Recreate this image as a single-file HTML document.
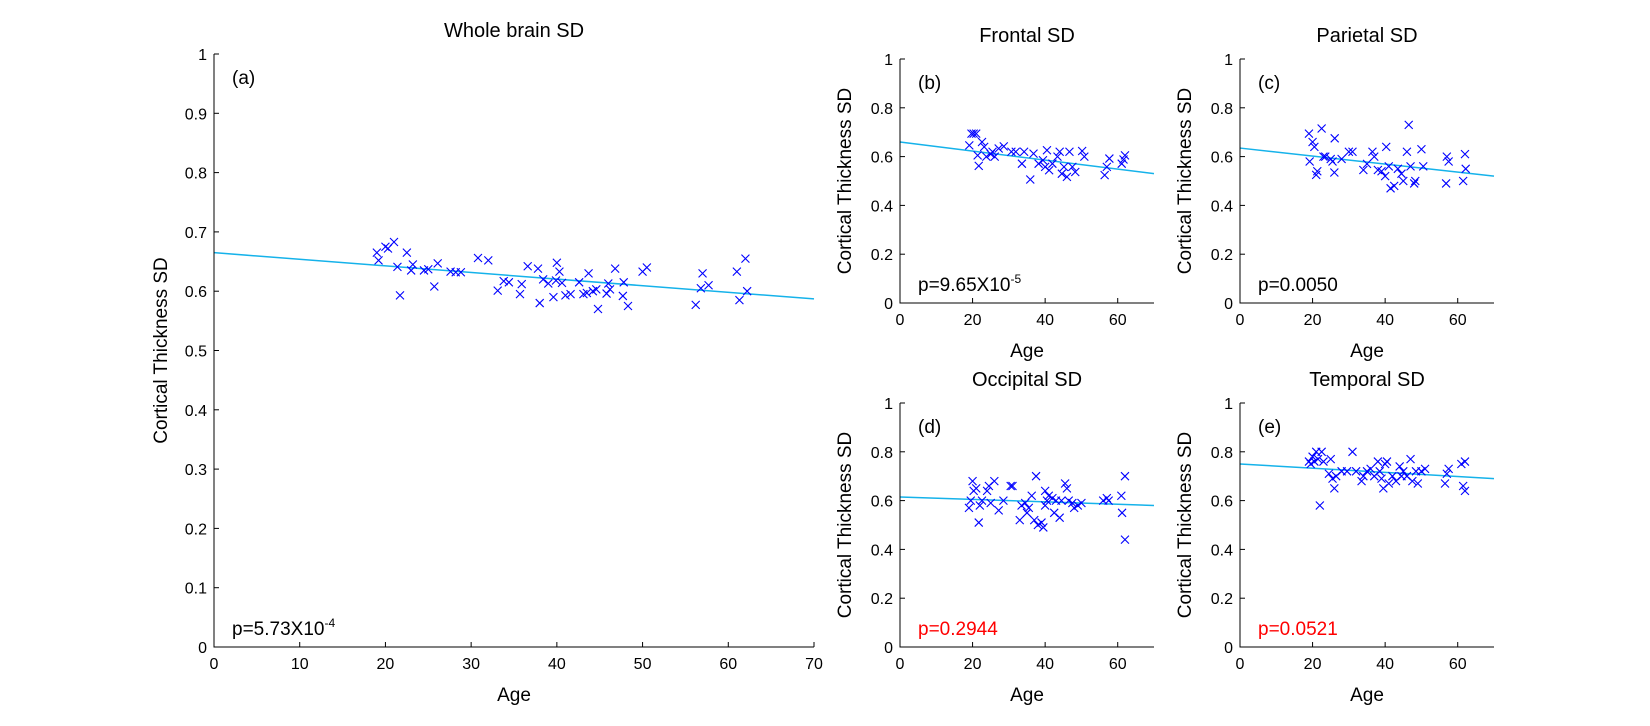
<!DOCTYPE html>
<html><head><meta charset="utf-8"><style>
html,body{margin:0;padding:0;background:#fff;}
svg{display:block;}
text{font-family:"Liberation Sans",sans-serif;}
</style></head><body>
<svg id="fig" width="1650" height="726" viewBox="0 0 1650 726" xmlns="http://www.w3.org/2000/svg"></svg>
<script>
// ---- data ----
const wholeAges=[19.0,19.2,20,20.3,21,21.4,21.7,22.5,23,23.2,24.5,25,25.7,26.1,27.6,28.2,28.8,30.8,32,33.1,33.8,34.4,35.7,35.9,36.6,37.8,38,38.4,39,39.6,39.9,40,40.3,40.6,41,41.6,42.6,43.1,43.5,43.7,44.2,44.6,44.8,45.8,46,46.2,46.8,47.7,47.8,48.3,50,50.5,56.2,56.8,57,57.7,61,61.3,62,62.2];
const wholeSD=[.665,.652,.675,.672,.683,.641,.593,.665,.635,.645,.635,.637,.608,.647,.633,.632,.632,.656,.652,.601,.617,.615,.595,.612,.642,.638,.58,.62,.613,.59,.618,.648,.633,.614,.593,.595,.615,.595,.597,.63,.6,.603,.57,.596,.613,.603,.638,.592,.615,.575,.633,.64,.577,.605,.63,.61,.633,.585,.655,.6];
const frontalAges=[19.1,19.7,20.3,21,21.7,21.4,22.6,23.2,23.8,25,25.5,26.1,27.2,28.6,30.7,31.9,33.6,34.2,35.9,36.8,38.2,39.4,40,40.5,41.1,42,43.4,44,44.6,45.2,46,46.7,47.5,48.3,50.2,50.8,56.4,57,57.7,61.1,62,61.6];
const frontalSD=[.646,.694,.694,.694,.562,.605,.66,.64,.6,.61,.62,.6,.633,.642,.62,.62,.571,.62,.506,.612,.571,.585,.558,.626,.544,.571,.6,.62,.53,.558,.517,.62,.558,.537,.623,.6,.524,.558,.592,.571,.605,.588];
const parietalAges=[19,19.2,20,20.5,21,21.3,22.5,23,23.5,25,25.5,26,26.1,28,30,31,34,35,36.5,37,38,39,40,40.3,41,41.5,42.5,43.5,44.5,45,46,46.5,47,48,48.3,50,50.5,56.8,57,57.5,61.5,62,62.2];
const parietalSD=[.694,.58,.66,.64,.525,.54,.715,.6,.6,.59,.58,.535,.675,.59,.62,.62,.545,.57,.62,.6,.545,.54,.52,.64,.56,.47,.48,.55,.53,.5,.62,.73,.56,.49,.5,.63,.56,.49,.6,.58,.5,.61,.55];
const occipitalAges=[19,19.5,20,20.3,21,21.7,22,22.6,24,24.5,25,26,27.2,28.5,30.5,31,33,33.5,34.5,35,35.5,36.3,37,37.5,38,39,39.5,40,40,40.5,41,42,42.5,43,44,44.5,45.5,46,46.5,47.5,48,49,50,56,57,57.5,61,61.2,62,62];
const occipitalSD=[.57,.6,.68,.64,.65,.51,.58,.6,.64,.66,.59,.68,.56,.6,.66,.66,.52,.58,.59,.55,.57,.62,.52,.7,.5,.51,.49,.58,.64,.6,.62,.61,.55,.6,.53,.6,.67,.65,.6,.59,.57,.58,.59,.6,.61,.6,.62,.55,.7,.44];
const temporalAges=[19,19.5,20,20.5,21,21.5,22,22.5,23,24.5,25,25.5,26,26.5,28,29.5,31,32,33.5,34,35,36,37,38,38.5,39,39.5,40,40.5,41,42,43,44,44.5,45,46,47,47.5,48.5,49,50,51,56.5,57,57.5,61,61.5,62,62];
const temporalSD=[.76,.75,.78,.76,.8,.77,.58,.8,.76,.71,.77,.69,.65,.7,.72,.72,.8,.72,.68,.7,.72,.73,.7,.76,.72,.69,.65,.75,.76,.67,.7,.68,.74,.7,.72,.7,.77,.68,.72,.67,.72,.73,.67,.71,.73,.75,.66,.76,.64];
const fitWhole=[0.665,0.587], fitFrontal=[0.66,0.53], fitParietal=[0.635,0.52], fitOccipital=[0.615,0.58], fitTemporal=[0.75,0.69];
const mainXTicks=[0,10,20,30,40,50,60,70];
const mainYTicks=[0,0.1,0.2,0.3,0.4,0.5,0.6,0.7,0.8,0.9,1];
const smallXTicks=[0,20,40,60];
const smallYTicks=[0,0.2,0.4,0.6,0.8,1];

const NS="http://www.w3.org/2000/svg";
const svg=document.getElementById('fig');
function mk(tag,attrs,parent){const e=document.createElementNS(NS,tag);for(const k in attrs)e.setAttribute(k,attrs[k]);(parent||svg).appendChild(e);return e;}

function panel(o){
  const g=mk('g',{});
  
  
  const sx=v=>o.x0+(v-0)/70*(o.x1-o.x0);
  const sy=v=>o.y1-(v-0)/1*(o.y1-o.y0);
  const fl=mk('line',{x1:sx(0),y1:sy(o.fit[0]),x2:sx(70),y2:sy(o.fit[1]),stroke:'#15b2ea','stroke-width':1.5},g);
  
  
  const pg=mk('g',{stroke:'#0000ff','stroke-width':1.1},g);
  
  
  const r=o.r;
  for(let i=0;i<o.ages.length;i++){
    const cx=sx(o.ages[i]),cy=sy(o.vals[i]);
    const p=mk('path',{d:`M${cx-r},${cy-r}L${cx+r},${cy+r}M${cx-r},${cy+r}L${cx+r},${cy-r}`,fill:'none'},pg);
    
    
  }
  const ax=mk('path',{d:`M${o.x0},${o.y0}V${o.y1}H${o.x1}`,stroke:'#000','stroke-width':1,fill:'none'},g);
  
  
  for(const t of o.xt){
    const X=sx(t);
    mk('line',{x1:X,y1:o.y1,x2:X,y2:o.y1-5,stroke:'#000'},g);
    const tx=mk('text',{x:X,y:o.y1+22,'text-anchor':'middle','font-size':16,fill:'#000'},g);
    tx.textContent=t;
    
    
  }
  for(const t of o.yt){
    const Y=sy(t);
    mk('line',{x1:o.x0,y1:Y,x2:o.x0+5,y2:Y,stroke:'#000'},g);
    const tx=mk('text',{x:o.x0-7,y:Y+6,'text-anchor':'end','font-size':16,fill:'#000'},g);
    tx.textContent=String(t);
    
    
  }
  const ti=mk('text',{x:(o.x0+o.x1)/2,y:o.titleY,'text-anchor':'middle','font-size':20,fill:'#000'},g);
  ti.textContent=o.title;
  
  
  const xl=mk('text',{x:(o.x0+o.x1)/2,y:o.y1+54,'text-anchor':'middle','font-size':19,fill:'#000'},g);
  xl.textContent='Age';
  
  
  const yc=(o.y0+o.y1)/2;
  const yl=mk('text',{x:o.ylx,y:yc,'text-anchor':'middle','font-size':19,fill:'#000',transform:`rotate(-90 ${o.ylx} ${yc})`},g);
  yl.textContent='Cortical Thickness SD';
  
  
  const lb=mk('text',{x:o.x0+18,y:o.y0+30,'font-size':19,fill:'#000'},g);
  lb.textContent=o.label;
  
  
  const pv=mk('text',{x:o.x0+18,y:o.y1-12,'font-size':19,style:'fill:'+o.pcol},g);
  
  
  pv.textContent=o.p;
  if(o.pexp){const s=mk('tspan',{'font-size':12,dy:-8},pv);s.textContent=o.pexp;}
}

panel({name:'whole-brain',x0:214,x1:814,y0:54,y1:647,fit:fitWhole,ages:wholeAges,vals:wholeSD,xt:mainXTicks,yt:mainYTicks,title:'Whole brain SD',titleY:37,ylx:167,label:'(a)',p:'p=5.73X10',pexp:'-4',pcol:'#000',r:4});
panel({name:'frontal',x0:900,x1:1154,y0:59,y1:303,fit:fitFrontal,ages:frontalAges,vals:frontalSD,xt:smallXTicks,yt:smallYTicks,title:'Frontal SD',titleY:42,ylx:851,label:'(b)',p:'p=9.65X10',pexp:'-5',pcol:'#000',r:4});
panel({name:'parietal',x0:1240,x1:1494,y0:59,y1:303,fit:fitParietal,ages:parietalAges,vals:parietalSD,xt:smallXTicks,yt:smallYTicks,title:'Parietal SD',titleY:42,ylx:1191,label:'(c)',p:'p=0.0050',pexp:'',pcol:'#000',r:4});
panel({name:'occipital',x0:900,x1:1154,y0:403,y1:647,fit:fitOccipital,ages:occipitalAges,vals:occipitalSD,xt:smallXTicks,yt:smallYTicks,title:'Occipital SD',titleY:386,ylx:851,label:'(d)',p:'p=0.2944',pexp:'',pcol:'#ff0000',r:4});
panel({name:'temporal',x0:1240,x1:1494,y0:403,y1:647,fit:fitTemporal,ages:temporalAges,vals:temporalSD,xt:smallXTicks,yt:smallYTicks,title:'Temporal SD',titleY:386,ylx:1191,label:'(e)',p:'p=0.0521',pexp:'',pcol:'#ff0000',r:4});
</script>
</body></html>
